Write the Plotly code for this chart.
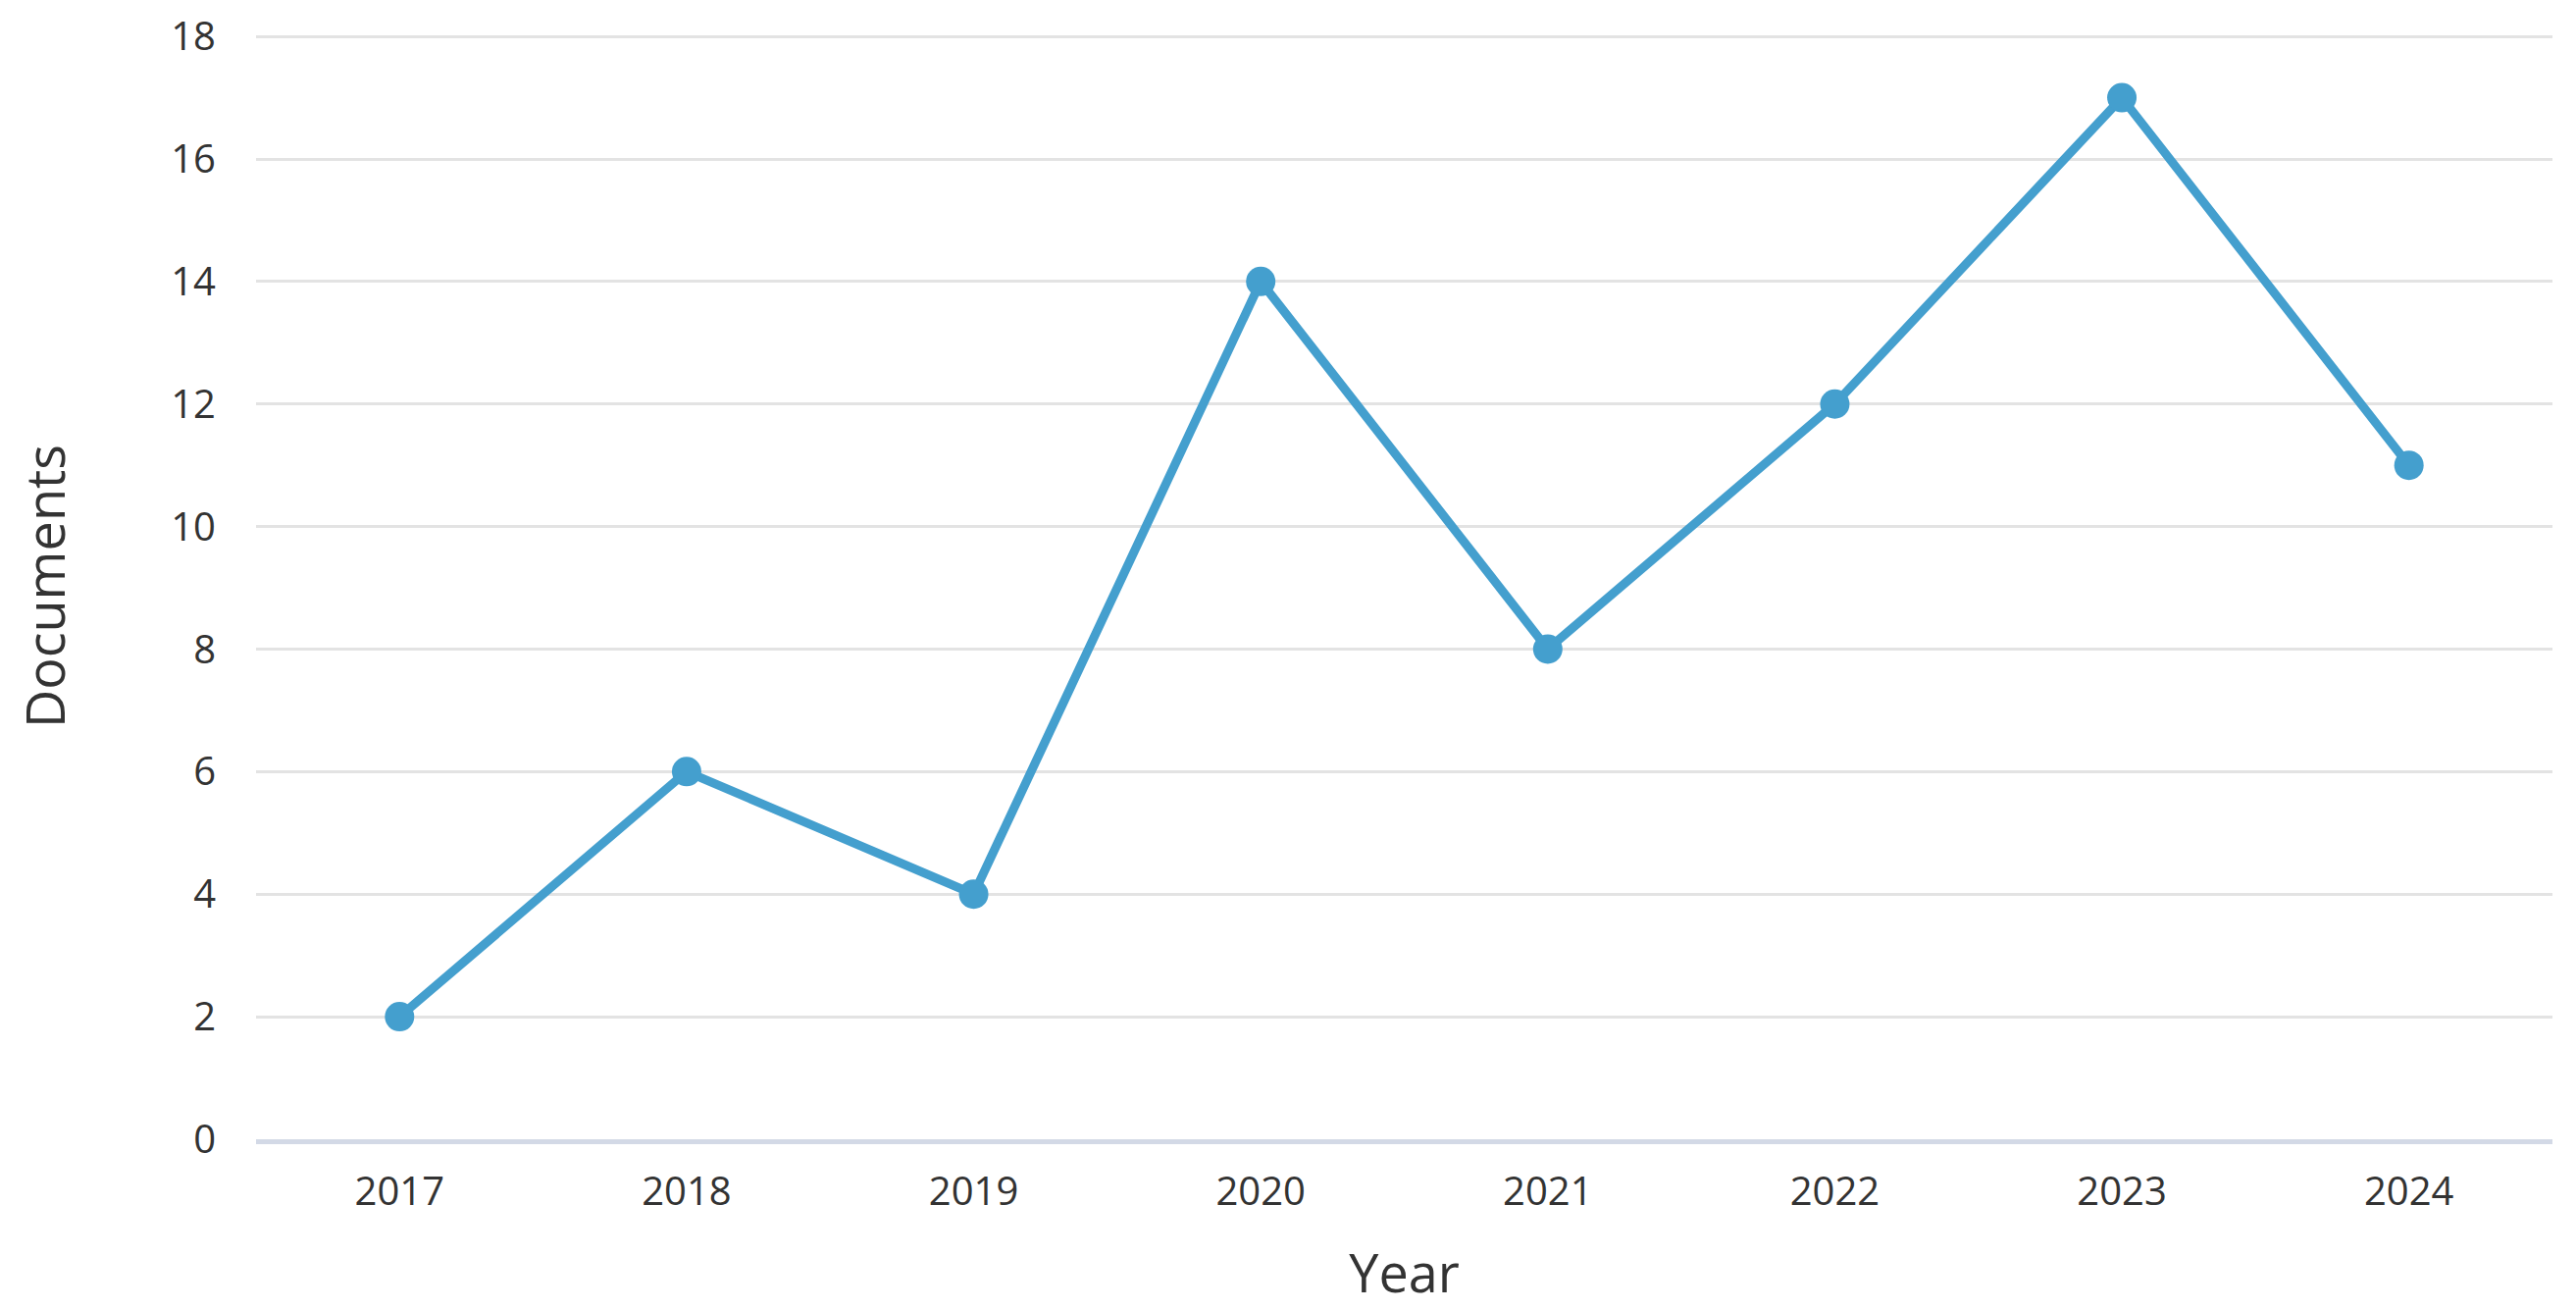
import plotly.graph_objects as go

years = ["2017", "2018", "2019", "2020", "2021", "2022", "2023", "2024"]
documents = [2, 6, 4, 14, 8, 12, 17, 11]

line_color = "#449fce"
text_color = "#333333"
font_family = "Open Sans"

fig = go.Figure()

fig.add_trace(go.Scatter(
    x=years, y=documents,
    mode="lines+markers",
    line=dict(color=line_color, width=9),
    marker=dict(size=30, color=line_color),
    hoverinfo="x+y",
    showlegend=False
))

# the page body adds 8px on the top/left, margins compensate for it
fig.update_layout(
    width=2626, height=1335,
    margin=dict(l=253, r=32, t=26, b=182),
    plot_bgcolor="white",
    paper_bgcolor="white",
    font=dict(family=font_family, color=text_color),
    xaxis=dict(
        type="category",
        range=[-0.5, 7.5],
        title=dict(text="Year", font=dict(size=54, color=text_color), standoff=42),
        tickfont=dict(size=40, color=text_color),
        ticklabelstandoff=14,
        showgrid=False,
        zeroline=False,
        showline=True, linecolor="#d3d9e6", linewidth=5,
        automargin=False
    ),
    yaxis=dict(
        range=[0, 18.05],
        dtick=2,
        title=dict(text="Documents", font=dict(size=54, color=text_color), standoff=114),
        tickfont=dict(size=40, color=text_color),
        ticklabelstandoff=40,
        ticklabeloverflow="allow",
        showgrid=True, gridcolor="#e3e3e3", gridwidth=3,
        zeroline=False,
        showline=False,
        automargin=False
    )
)

fig.write_html("out.html")
